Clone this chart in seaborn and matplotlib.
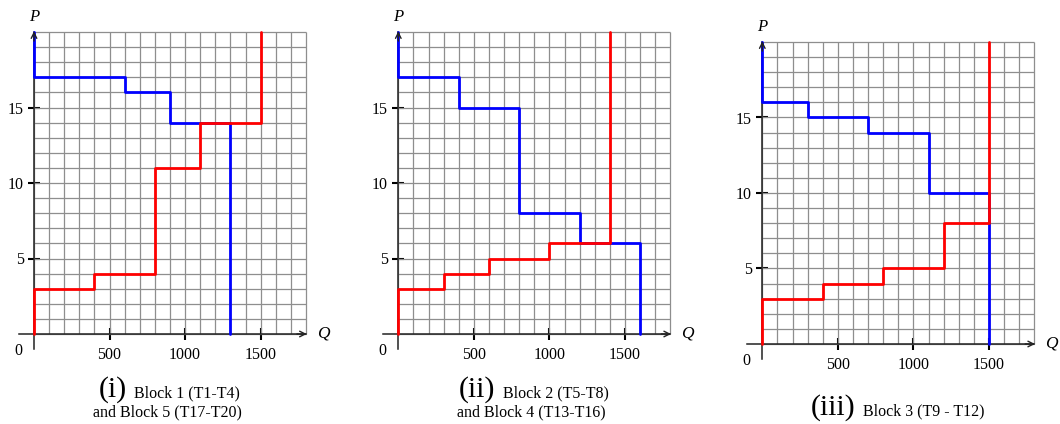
import numpy as np
import pandas as pd
import matplotlib
matplotlib.use("Agg")
import matplotlib.pyplot as plt
import seaborn as sns

# ---- data ----
panel_ids = ["(i)", "(ii)", "(iii)"]
caption_line1 = ["Block 1 (T1-T4)", "Block 2 (T5-T8)", "Block 3 (T9 - T12)"]
caption_line2 = ["and Block 5 (T17-T20)", "and Block 4 (T13-T16)", ""]

demand_levels_1 = [17, 16, 14]
demand_ends_1 = [600, 900, 1300]
supply_levels_1 = [3, 4, 11, 14]
supply_ends_1 = [400, 800, 1100, 1500]

demand_levels_2 = [17, 15, 8, 6]
demand_ends_2 = [400, 800, 1200, 1600]
supply_levels_2 = [3, 4, 5, 6]
supply_ends_2 = [300, 600, 1000, 1400]

demand_levels_3 = [16, 15, 14, 10]
demand_ends_3 = [300, 700, 1100, 1500]
supply_levels_3 = [3, 4, 5, 8]
supply_ends_3 = [400, 800, 1200, 1500]

x_ticks = [500, 1000, 1500]
y_ticks = [5, 10, 15]
Q_MAX = 1800
P_MAX = 20

panels = [
    (demand_levels_1, demand_ends_1, supply_levels_1, supply_ends_1),
    (demand_levels_2, demand_ends_2, supply_levels_2, supply_ends_2),
    (demand_levels_3, demand_ends_3, supply_levels_3, supply_ends_3),
]


def step_path(levels, ends, start_p, end_p):
    q, p = [0], [start_p]
    prev = 0
    for lvl, e in zip(levels, ends):
        q += [prev, e]
        p += [lvl, lvl]
        prev = e
    q.append(prev)
    p.append(end_p)
    return pd.DataFrame({"Q": q, "P": p})


sns.set_theme(style="white")
plt.rcParams["font.family"] = ["Liberation Serif", "DejaVu Serif"]
plt.rcParams["text.color"] = "black"
plt.rcParams["xtick.color"] = "black"
plt.rcParams["ytick.color"] = "black"

W, H = 1060, 424
fig = plt.figure(figsize=(W / 100, H / 100), dpi=100)

origins = [(34, 334), (398.3, 334), (762.3, 344)]
unit_x = 272 / Q_MAX
unit_y = 302 / P_MAX
XL = (-120, 1860)
YL = (-1.5, 21)

cap_info = [
    (127, 134, 397, 167, 416),
    (495, 503, 397, 531, 416),
    (855, 863, 415, None, None),
]

for k, (dl, de, sl, se) in enumerate(panels):
    ox, oy = origins[k]
    left_px = ox + XL[0] * unit_x
    right_px = ox + XL[1] * unit_x
    bottom_px = oy - YL[0] * unit_y
    top_px = oy - YL[1] * unit_y
    ax = fig.add_axes([left_px / W, 1 - bottom_px / H,
                       (right_px - left_px) / W, (bottom_px - top_px) / H])
    ax.set_xlim(*XL)
    ax.set_ylim(*YL)
    ax.patch.set_alpha(0)

    # grid
    ax.vlines(np.arange(0, Q_MAX + 1, 100), 0, P_MAX, color="#8e8e8e", lw=0.9, zorder=1)
    ax.hlines(np.arange(0, P_MAX + 1, 1), 0, Q_MAX, color="#8e8e8e", lw=0.9, zorder=1)

    for s in ["top", "right"]:
        ax.spines[s].set_visible(False)
    ax.spines["left"].set_position(("data", 0))
    ax.spines["bottom"].set_position(("data", 0))
    ax.spines["left"].set_bounds(-1.0, P_MAX)
    ax.spines["bottom"].set_bounds(-100, Q_MAX)
    for s in ["left", "bottom"]:
        ax.spines[s].set_color("#222222")
        ax.spines[s].set_linewidth(1.1)
        ax.spines[s].set_zorder(2)
    ax.annotate("", xy=(Q_MAX + 5, 0), xytext=(Q_MAX - 60, 0),
                arrowprops=dict(arrowstyle="->", lw=1.0, color="#222222",
                                mutation_scale=10, shrinkA=0, shrinkB=0))
    ax.annotate("", xy=(0, P_MAX + 0.05), xytext=(0, P_MAX - 0.6),
                arrowprops=dict(arrowstyle="->", lw=1.0, color="#222222",
                                mutation_scale=10, shrinkA=0, shrinkB=0), zorder=5)

    ax.set_xticks(x_ticks)
    ax.set_yticks(y_ticks)
    ax.set_xticklabels([str(v) for v in x_ticks])
    ax.set_yticklabels([str(v) for v in y_ticks])
    ax.tick_params(axis="both", direction="inout", length=9, width=1.5,
                   colors="black", labelsize=11.5, pad=3,
                   bottom=True, left=True)
    ax.tick_params(axis="x", pad=5)

    dem = step_path(dl, de, P_MAX, 0)
    sup = step_path(sl, se, 0, P_MAX)
    sns.lineplot(data=dem, x="Q", y="P", sort=False, estimator=None,
                 color="#0000ff", lw=2.0, ax=ax, zorder=3)
    sns.lineplot(data=sup, x="Q", y="P", sort=False, estimator=None,
                 color="#ff0000", lw=2.0, ax=ax, zorder=4)
    ax.set_xlabel("")
    ax.set_ylabel("")

    ax.text(-106, -1.13, "0", ha="center", va="center", fontsize=11.5)
    ax.text(0, P_MAX + 1.0, "P", ha="center", va="center", fontsize=12,
            style="italic", clip_on=False)
    ax.text(1913, 0, "Q", ha="center", va="center", fontsize=12.5,
            style="italic", clip_on=False)

    rx, lx, b1, cx, b2 = cap_info[k]
    fig.text(rx / W, 1 - b1 / H, panel_ids[k], ha="right", va="baseline", fontsize=21.5)
    fig.text(lx / W, 1 - b1 / H, caption_line1[k], ha="left", va="baseline", fontsize=11.5)
    if caption_line2[k]:
        fig.text(cx / W, 1 - b2 / H, caption_line2[k], ha="center", va="baseline", fontsize=11.5)

fig.savefig("out.png", dpi=100)
